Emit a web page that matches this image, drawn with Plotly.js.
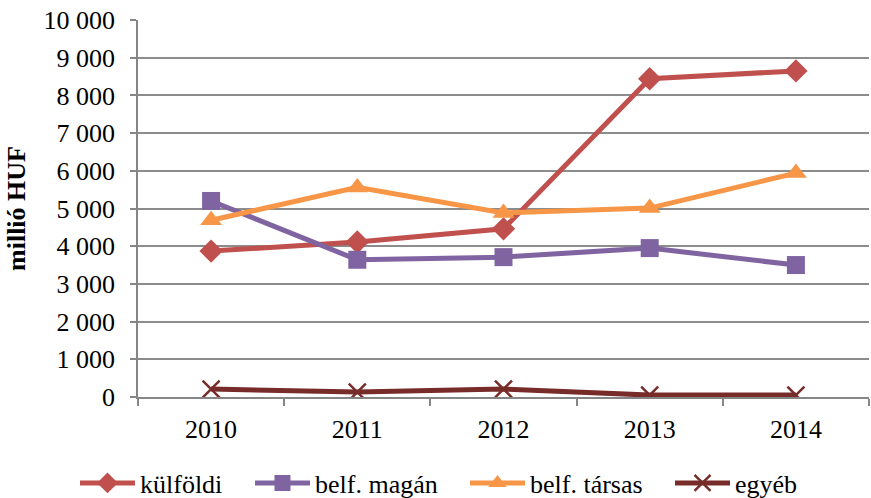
<!DOCTYPE html>
<html><head><meta charset="utf-8">
<script src="https://cdn.plot.ly/plotly-3.0.1.min.js"></script>
<style>body{margin:0;}#chart{width:871px;height:498px;}</style>
</head><body><div id="chart"></div>
<script>
var years = ["2010","2011","2012","2013","2014"];
var kulfoldi = [3870, 4110, 4460, 8440, 8650];
var belfMagan = [5200, 3640, 3710, 3950, 3500];
var belfTarsas = [4690, 5560, 4880, 5010, 5940];
var egyeb = [210, 130, 210, 50, 50];
var seriesNames = ["külföldi", "belf. magán", "belf. társas", "egyéb"];
var yTicks = [0,1000,2000,3000,4000,5000,6000,7000,8000,9000,10000];

var FAM = '"Liberation Serif", "Times New Roman", Times, serif';
var FS = 26;
function tr(name, y, color, symbol, size, leg){
  return {x: years, y: y, name: name, type: 'scatter', mode: 'lines+markers', legend: leg,
    line: {color: color, width: 5},
    marker: {color: color, symbol: symbol, size: size, line: {color: color, width: symbol==='x-thin'?2.5:0}}};
}
var data = [
  tr(seriesNames[0], kulfoldi, '#C0504D', 'diamond', 18, 'legend'),
  tr(seriesNames[1], belfMagan, '#8064A2', 'square', 18, 'legend2'),
  tr(seriesNames[2], belfTarsas, '#F79646', 'triangle-up', 19, 'legend3'),
  tr(seriesNames[3], egyeb, '#772C2A', 'x-thin', 17, 'legend4')
];
function leg(px){
  return {orientation: 'h', x: px/871, xref: 'container', xanchor: 'left',
    y: 0.03, yref: 'container', yanchor: 'middle', bgcolor: 'rgba(0,0,0,0)',
    font: {family: FAM, size: FS, color: '#000'}, itemwidth: 55};
}
var layout = {
  width: 871, height: 498,
  margin: {l: 138, r: 2, t: 20, b: 101, autoexpand: false},
  paper_bgcolor: '#fff', plot_bgcolor: '#fff',
  separators: ', ',
  font: {family: FAM, size: FS, color: '#000'},
  showlegend: true,
  legend: leg(75), legend2: leg(250), legend3: leg(465), legend4: leg(670),
  xaxis: {type: 'category', range: [-0.5, 4.5], showgrid: false,
    showline: true, linecolor: '#868686', linewidth: 1.5,
    ticks: 'outside', tickson: 'boundaries', ticklen: 7, tickcolor: '#868686', tickwidth: 1.5,
    ticklabelstandoff: 8,
    tickfont: {family: FAM, size: FS, color: '#000'}},
  yaxis: {range: [0, 10000], tickvals: yTicks, tickformat: ',d',
    showgrid: true, gridcolor: '#8c8c8c', gridwidth: 1.5,
    showline: true, linecolor: '#868686', linewidth: 1.5,
    ticks: 'outside', ticklen: 6, tickcolor: '#868686', tickwidth: 1.5,
    ticklabelstandoff: 10,
    zeroline: false, tickfont: {family: FAM, size: FS, color: '#000'},
    title: {text: '<b>millió HUF</b>', font: {family: FAM, size: FS, color: '#000'}, standoff: 10}}
};
Plotly.newPlot('chart', data, layout, {displayModeBar: false});
</script></body></html>
